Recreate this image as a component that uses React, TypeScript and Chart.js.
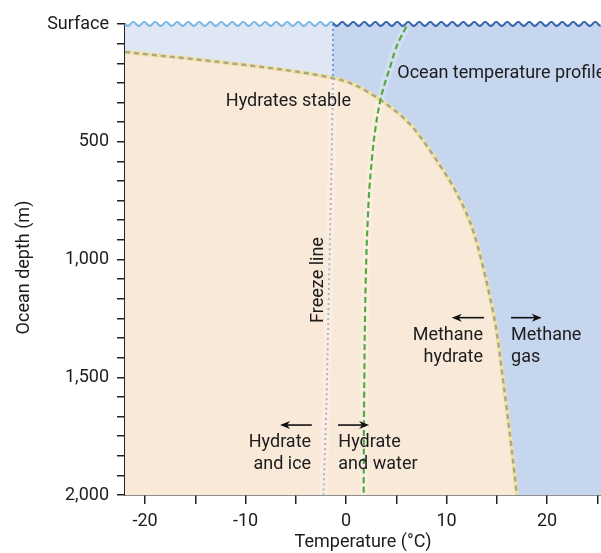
import { useEffect, useRef } from 'react';
import { Chart, registerables } from 'chart.js';

Chart.register(...registerables);

// ---- axis ranges & ticks ----
const X_MIN = -22;
const X_MAX = 25.37;
const X_TICKS = [-20, -15, -10, -5, 0, 5, 10, 15, 20, 25];
const X_TICK_LABELS = ['-20', '', '-10', '', '0', '', '10', '', '20', ''];
const Y_MAJOR = [0, 500, 1000, 1500, 2000];
const Y_MAJOR_LABELS = ['Surface', '500', '1,000', '1,500', '2,000'];
const Y_MINOR_PER_MAJOR = 6;
const X_TITLE = 'Temperature (°C)';
const Y_TITLE = 'Ocean depth (m)';

// ---- hydrate stability boundary (temperature °C, depth m) ----
const STABILITY_TEMP = [-22, -15, -10, -5, -1.3, 0.5, 3.4, 6.5, 9.0, 11.0, 12.7, 14.3, 15.0, 15.65, 16.5, 17.0];
const STABILITY_DEPTH = [119, 150, 174, 202, 230, 252, 322, 432, 578, 718, 885, 1155, 1310, 1520, 1810, 2000];

// ---- ocean temperature profile ----
const PROFILE_TEMP = [6.0, 5.4, 4.9, 4.4, 3.8, 3.4, 2.9, 2.6, 2.25, 1.95, 1.8, 1.75];
const PROFILE_DEPTH = [12, 60, 110, 180, 260, 325, 450, 560, 750, 1100, 1580, 2000];

// ---- freeze line ----
const FREEZE_TEMP = [-1.3, -1.3, -1.45, -1.7, -1.95, -2.25];
const FREEZE_DEPTH = [0, 230, 600, 1100, 1600, 2000];
const FREEZE_SPLIT = 1; // index where the line meets the stability boundary

// ---- annotations ----
const TEXT_LABELS = [
  { lines: ['Hydrates stable'], t: -5.74, d: 347, align: 'center', rotate: false },
  { lines: ['Ocean temperature profile'], t: 5.1, d: 229, align: 'left', rotate: false },
  { lines: ['Freeze line'], t: -2.29, d: 1087, align: 'center', rotate: true },
  { lines: ['Methane', 'hydrate'], t: 13.63, d: 1343, align: 'right', rotate: false },
  { lines: ['Methane', 'gas'], t: 16.42, d: 1343, align: 'left', rotate: false },
  { lines: ['Hydrate', 'and ice'], t: -3.48, d: 1795, align: 'right', rotate: false },
  { lines: ['Hydrate', 'and water'], t: -0.77, d: 1795, align: 'left', rotate: false },
];
const ARROWS = [
  { from: 13.73, to: 10.52, d: 1247 },
  { from: 16.42, to: 19.47, d: 1247 },
  { from: -3.41, to: -6.57, d: 1703 },
  { from: -0.8, to: 2.29, d: 1703 },
];

const FONT = 'Roboto';
const TEXT_COLOR = '#1c1c1c';

const pts = (xs: number[], ys: number[]) => xs.map((x, i) => ({ x, y: ys[i] }));

function drawWave(ctx: CanvasRenderingContext2D, x0: number, x1: number, base: number, left: number, color: string) {
  const amp = 2;
  const period = 11;
  ctx.save();
  ctx.beginPath();
  for (let px = x0; px <= x1; px += 0.5) {
    const yy = base + amp * Math.sin(((px - left) / period) * Math.PI * 2);
    if (px === x0) ctx.moveTo(px, yy);
    else ctx.lineTo(px, yy);
  }
  ctx.strokeStyle = color;
  ctx.lineWidth = 2;
  ctx.stroke();
  ctx.restore();
}

const overlayPlugin = {
  id: 'overlay',
  afterDatasetsDraw(chart: any) {
    const { ctx, chartArea } = chart;
    const xs = chart.scales.x;
    const ys = chart.scales.y;
    const base = ys.getPixelForValue(0);
    const split = xs.getPixelForValue(FREEZE_TEMP[0]);
    drawWave(ctx, chartArea.left, split, base, chartArea.left, '#7db7e4');
    drawWave(ctx, split, chartArea.right, base, chartArea.left, '#3764aa');

    ctx.save();
    ctx.fillStyle = TEXT_COLOR;
    ctx.font = `18px ${FONT}`;
    ctx.textBaseline = 'alphabetic';
    const lh = 22;
    for (const lab of TEXT_LABELS) {
      const px = xs.getPixelForValue(lab.t);
      const py = ys.getPixelForValue(lab.d);
      ctx.save();
      ctx.translate(px, py);
      if (lab.rotate) ctx.rotate(-Math.PI / 2);
      ctx.textAlign = lab.align as CanvasTextAlign;
      lab.lines.forEach((ln, i) => ctx.fillText(ln, 0, i * lh));
      ctx.restore();
    }
    // y-axis title
    ctx.save();
    ctx.translate(24.5, (chartArea.top + chartArea.bottom) / 2 + 8);
    ctx.rotate(-Math.PI / 2);
    ctx.textAlign = 'center';
    ctx.textBaseline = 'middle';
    ctx.fillText(Y_TITLE, 0, 0);
    ctx.restore();

    // arrows
    ctx.strokeStyle = '#111';
    ctx.fillStyle = '#111';
    ctx.lineWidth = 1.6;
    for (const a of ARROWS) {
      const x0 = xs.getPixelForValue(a.from);
      const x1 = xs.getPixelForValue(a.to);
      const py = ys.getPixelForValue(a.d);
      const dir = Math.sign(x1 - x0);
      const head = 10;
      ctx.beginPath();
      ctx.moveTo(x0, py);
      ctx.lineTo(x1 - dir * head * 0.6, py);
      ctx.stroke();
      ctx.beginPath();
      ctx.moveTo(x1, py);
      ctx.lineTo(x1 - dir * head, py - 4);
      ctx.lineTo(x1 - dir * head * 0.7, py);
      ctx.lineTo(x1 - dir * head, py + 4);
      ctx.closePath();
      ctx.fill();
    }
    ctx.restore();
  },
};

export default function App() {
  const ref = useRef<HTMLCanvasElement | null>(null);

  useEffect(() => {
    if (!ref.current) return;
    const stability = pts(STABILITY_TEMP, STABILITY_DEPTH);
    const profile = pts(PROFILE_TEMP, PROFILE_DEPTH);
    const freeze = pts(FREEZE_TEMP, FREEZE_DEPTH);
    const freezeUpper = freeze.slice(0, FREEZE_SPLIT + 1);
    const freezeLower = freeze.slice(FREEZE_SPLIT);

    const yTicks: { value: number }[] = [];
    for (let i = 0; i < Y_MAJOR.length - 1; i++) {
      const step = (Y_MAJOR[i + 1] - Y_MAJOR[i]) / Y_MINOR_PER_MAJOR;
      for (let k = 0; k < Y_MINOR_PER_MAJOR; k++) yTicks.push({ value: Y_MAJOR[i] + k * step });
    }
    yTicks.push({ value: Y_MAJOR[Y_MAJOR.length - 1] });

    const line = (data: any[], color: string, width: number, order: number, dash: number[] = [], tension = 0.4, mono = false) => ({
      data,
      borderColor: color,
      borderWidth: width,
      borderDash: dash,
      fill: false,
      tension,
      cubicInterpolationMode: mono ? 'monotone' : 'default',
      order,
      pointRadius: 0,
    });

    const chart = new Chart(ref.current, {
      type: 'line',
      data: {
        datasets: [
          {
            data: [{ x: X_MIN, y: 0 }, { x: FREEZE_TEMP[0], y: 0 }],
            borderWidth: 0,
            backgroundColor: '#dfe7f4',
            fill: { value: 2000 },
            order: 20,
            pointRadius: 0,
          } as any,
          {
            data: [{ x: FREEZE_TEMP[0], y: 0 }, { x: X_MAX, y: 0 }],
            borderWidth: 0,
            backgroundColor: '#c6d6ee',
            fill: { value: 2000 },
            order: 19,
            pointRadius: 0,
          } as any,
          {
            data: stability,
            borderWidth: 0,
            backgroundColor: '#f9e9d9',
            fill: { value: 2000 },
            cubicInterpolationMode: 'monotone',
            order: 18,
            pointRadius: 0,
          } as any,
          line(freezeLower, 'rgba(255,255,255,0.25)', 8, 17, [], 0.3),
          line(profile, 'rgba(255,255,255,0.22)', 8, 16, [], 0.4),
          line(stability, '#f1e3a4', 4, 15, [], 0, true),
          line(stability, '#aba78e', 2.5, 14, [5, 4], 0, true),
          line(freezeUpper, '#6c9fd6', 2, 13, [2, 3], 0),
          line(freezeLower, '#b3b3c0', 2, 12, [2, 3], 0.3),
          line(profile, '#57a845', 2.2, 11, [6, 3.5], 0.4),
        ],
      },
      options: {
        animation: false,
        responsive: false,
        maintainAspectRatio: false,
        layout: { padding: { top: 24, right: 0, bottom: 0, left: 0 } },
        plugins: { legend: { display: false }, tooltip: { enabled: false } },
        elements: { point: { radius: 0 } },
        scales: {
          x: {
            type: 'linear',
            min: X_MIN,
            max: X_MAX,
            afterBuildTicks: (s: any) => {
              s.ticks = X_TICKS.map((v) => ({ value: v }));
            },
            afterFit: (s: any) => {
              s.height = 58;
              s.paddingLeft = 0;
              s.paddingRight = 0;
            },
            ticks: {
              autoSkip: false,
              maxRotation: 0,
              padding: 7,
              color: TEXT_COLOR,
              font: { family: FONT, size: 18 },
              callback: (v: any) => {
                const i = X_TICKS.indexOf(Number(v));
                return i >= 0 ? X_TICK_LABELS[i] : '';
              },
            },
            grid: { drawOnChartArea: false, drawTicks: true, tickLength: 9, color: '#222', lineWidth: 1.5 },
            border: { display: true, color: '#222', width: 1.5 },
            title: {
              display: true,
              text: X_TITLE,
              color: TEXT_COLOR,
              font: { family: FONT, size: 18 },
              padding: { top: 0, bottom: 0 },
            },
          },
          y: {
            type: 'linear',
            reverse: true,
            min: 0,
            max: 2000,
            afterBuildTicks: (s: any) => {
              s.ticks = yTicks.map((t) => ({ value: t.value }));
            },
            afterFit: (s: any) => {
              s.width = 125;
            },
            ticks: {
              autoSkip: false,
              padding: 8,
              color: TEXT_COLOR,
              font: { family: FONT, size: 18 },
              callback: (v: any) => {
                const n = Number(v);
                const i = Y_MAJOR.findIndex((m) => Math.abs(m - n) < 0.01);
                return i >= 0 ? Y_MAJOR_LABELS[i] : '';
              },
            },
            grid: { drawOnChartArea: false, drawTicks: true, tickLength: 8, color: '#222', lineWidth: 1.5 },
            border: { display: true, color: '#222', width: 1.5 },
            title: { display: false },
          },
        },
      } as any,
      plugins: [overlayPlugin],
    });
    return () => chart.destroy();
  }, []);

  return (
    <div style={{ position: 'absolute', left: 0, top: 0, width: 601, height: 553 }}>
      <canvas ref={ref} width={601} height={553} style={{ display: 'block', width: 601, height: 553 }} />
    </div>
  );
}
